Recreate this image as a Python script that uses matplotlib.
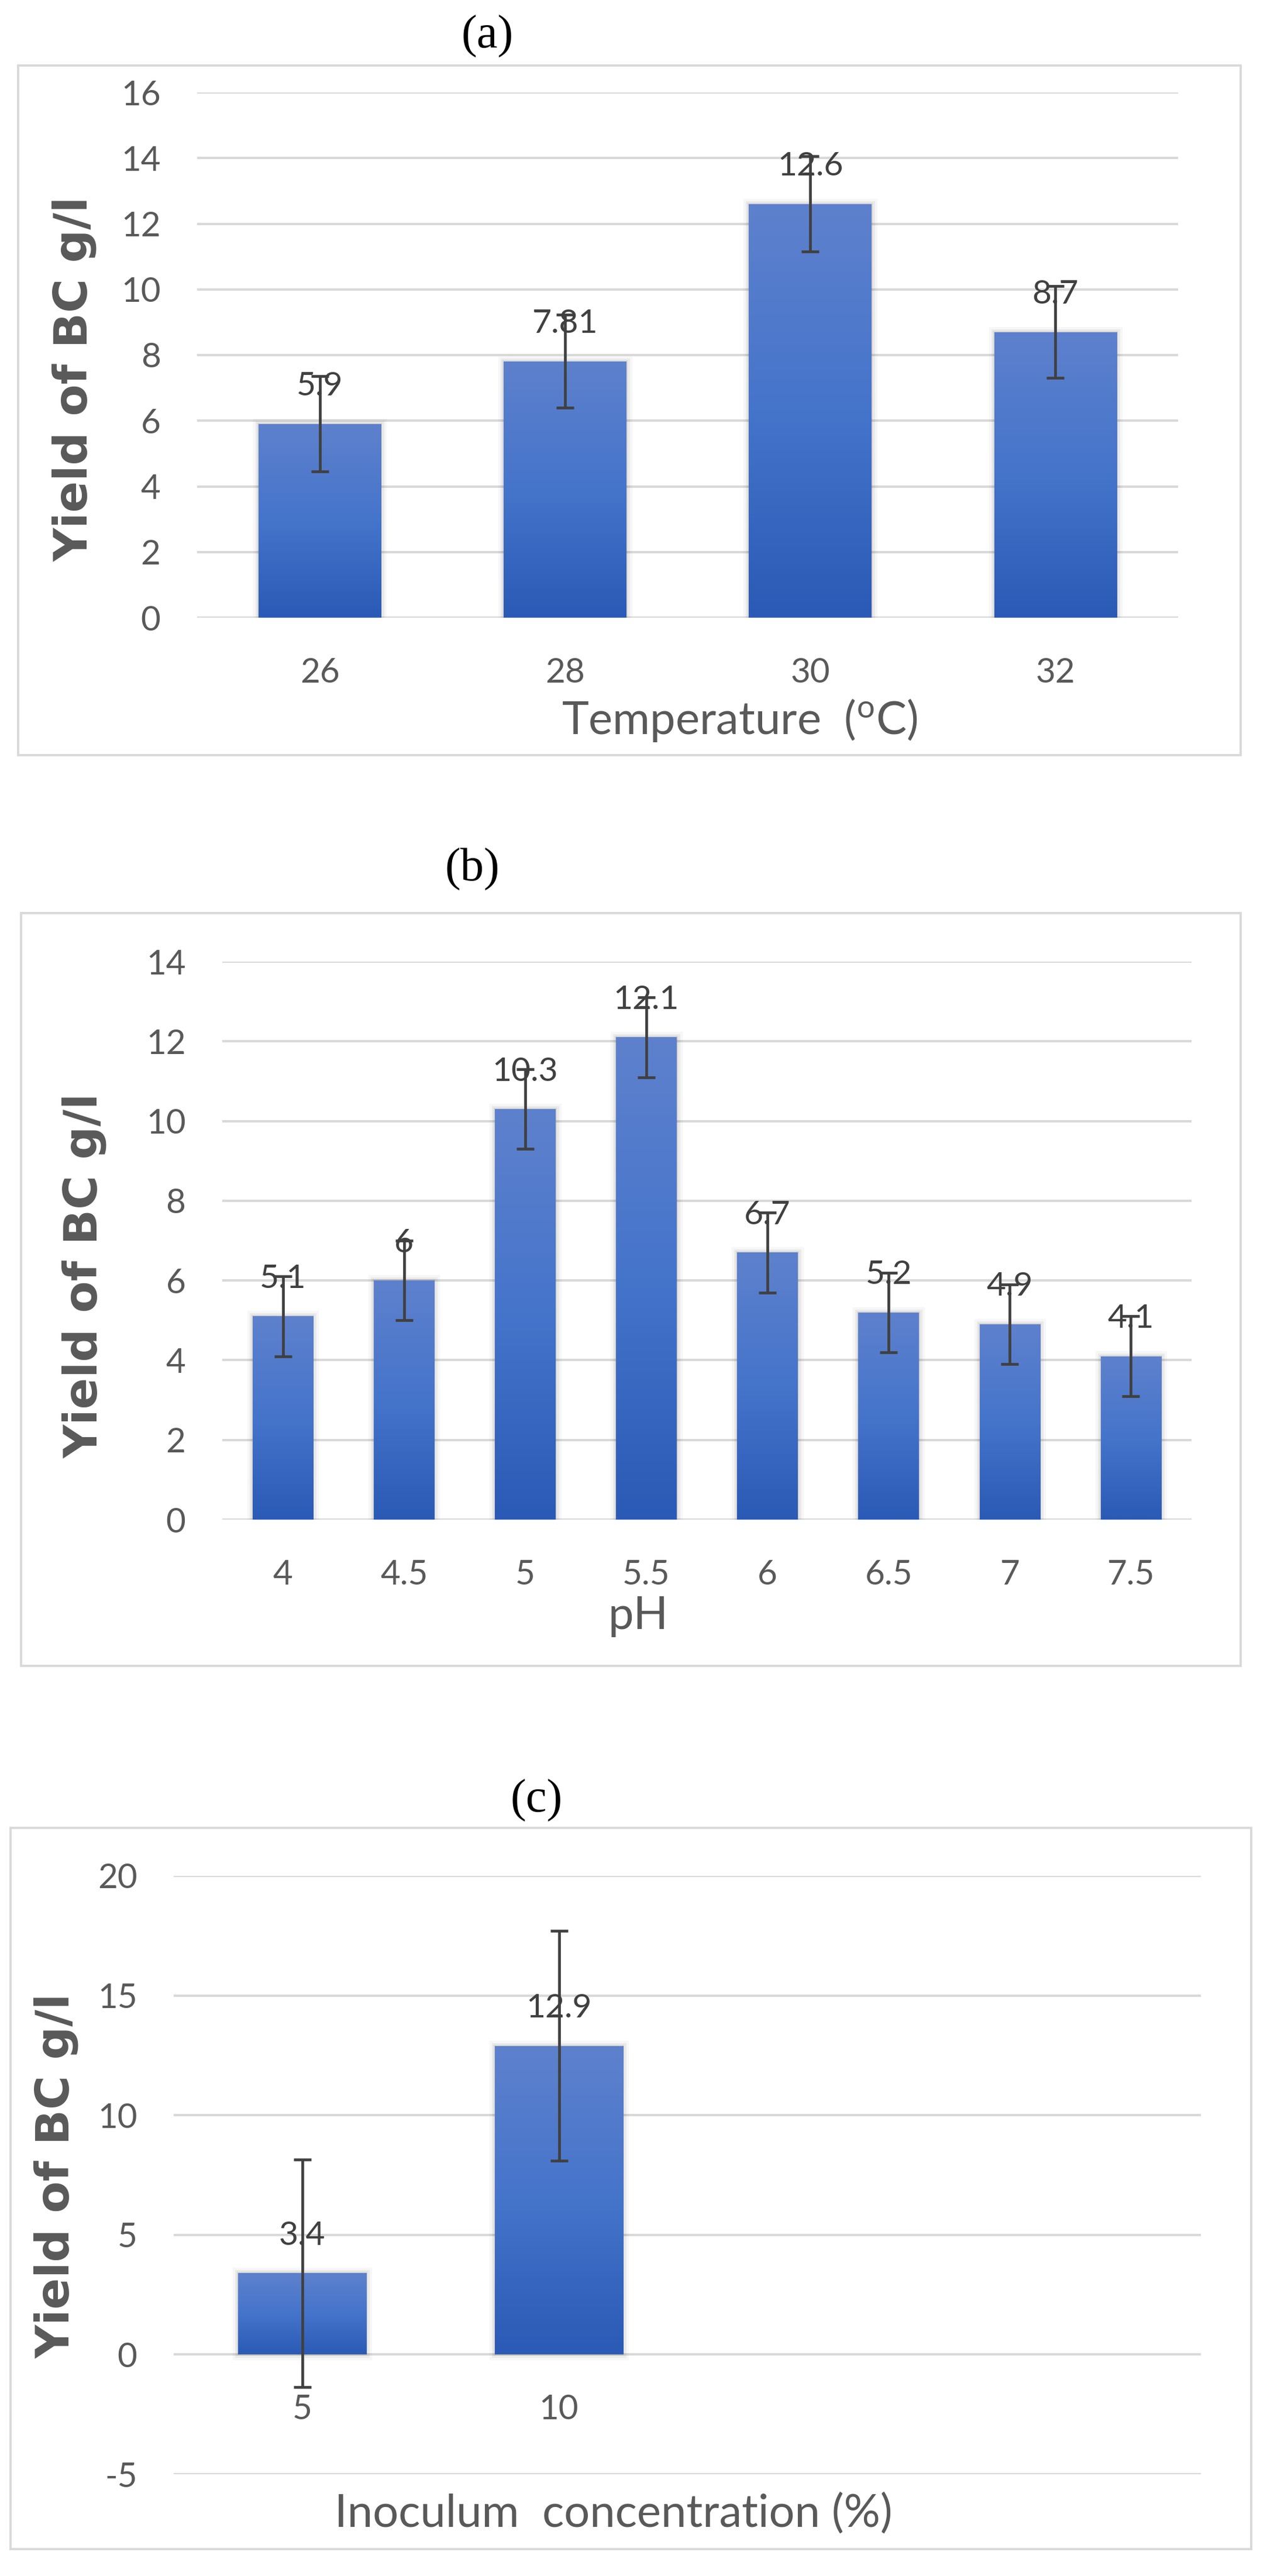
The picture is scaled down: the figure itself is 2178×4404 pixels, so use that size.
import numpy as np
import matplotlib as mplt
mplt.use("Agg")
import matplotlib.pyplot as plt
import matplotlib.patheffects as pe
from matplotlib.patches import Rectangle
from matplotlib.colors import LinearSegmentedColormap

plt.rcParams["font.family"] = ["Lato", "DejaVu Sans"]
plt.rcParams["axes.unicode_minus"] = False
plt.rcParams["mathtext.default"] = "regular"

# data
temp_labels = ["26", "28", "30", "32"]
temp_yield = [5.9, 7.81, 12.6, 8.7]
temp_err = [1.45, 1.42, 1.45, 1.4]

ph_labels = ["4", "4.5", "5", "5.5", "6", "6.5", "7", "7.5"]
ph_yield = [5.1, 6, 10.3, 12.1, 6.7, 5.2, 4.9, 4.1]
ph_err = [1.0, 1.0, 1.0, 1.0, 1.0, 1.0, 1.0, 1.0]

inoc_labels = ["5", "10"]
inoc_yield = [3.4, 12.9]
inoc_err = [4.75, 4.8]

W, H = 2178, 4404
fig = plt.figure(figsize=(W / 100, H / 100), dpi=100)

TICK_C = "#595959"
LABEL_C = "#404040"
GRID_C = "#D9D9D9"
bar_cmap = LinearSegmentedColormap.from_list("bar", ["#2B5AB6", "#4574CB", "#5E81CD"])


def axes_px(l, t, r, b):
    return fig.add_axes([l / W, 1 - b / H, (r - l) / W, (b - t) / H])


def frame_px(l, t, r, b):
    fig.patches.append(Rectangle((l / W, 1 - b / H), (r - l) / W, (b - t) / H,
                                 transform=fig.transFigure, fill=False,
                                 edgecolor=GRID_C, linewidth=2.8))


def draw_panel(ax, labels, vals, errs, ncat, ylim, ystep, xlab, xlab_pos, ylab_pos):
    x = np.arange(len(vals))
    shadow = [pe.Stroke(linewidth=14, foreground="#000000", alpha=0.03),
              pe.Stroke(linewidth=8, foreground="#000000", alpha=0.05),
              pe.Stroke(linewidth=3, foreground="#000000", alpha=0.08),
              pe.Normal()]
    bars = ax.bar(x, vals, width=0.5, color="#4472C4", linewidth=0, zorder=2)
    grad = np.linspace(0, 1, 256).reshape(-1, 1)
    for b in bars:
        b.set_path_effects(shadow)
        x0, y0 = b.get_x(), b.get_y()
        im = ax.imshow(grad, cmap=bar_cmap, aspect="auto", origin="lower",
                       extent=(x0, x0 + b.get_width(), y0, y0 + b.get_height()),
                       zorder=2.1, interpolation="bilinear")
        im.set_clip_path(b)
    ax.errorbar(x, vals, yerr=errs, fmt="none", ecolor="#404040",
                elinewidth=3.4, capsize=11, capthick=3.4, zorder=5)
    for xi, v in zip(x, vals):
        ax.annotate(f"{v:g}", (xi, v), xytext=(0, 35), textcoords="offset points",
                    ha="center", va="baseline", fontsize=41, color=LABEL_C, zorder=4)

    ax.set_xlim(-0.5, ncat - 0.5)
    ax.set_ylim(*ylim)
    ax.set_yticks(np.arange(ylim[0], ylim[1] + 0.1, ystep))
    ax.set_xticks(x)
    ax.set_xticklabels(labels)
    ax.yaxis.grid(True, color=GRID_C, linewidth=2.9)
    ax.set_axisbelow(True)
    for s in ax.spines.values():
        s.set_visible(False)
    ax.spines["bottom"].set_position(("data", 0))
    ax.tick_params(axis="y", length=0, pad=45, labelsize=42, labelcolor=TICK_C)
    ax.tick_params(axis="x", length=0, pad=49, labelsize=42, labelcolor=TICK_C)

    ax.set_xlabel(xlab, fontsize=56, color=TICK_C)
    ax.xaxis.set_label_coords(*xlab_pos)
    ax.xaxis.label.set_va("center")
    ax.set_ylabel("Yield of BC g/l", fontsize=57, fontweight="bold",
                  color=TICK_C, family="DejaVu Sans")
    ax.yaxis.set_label_coords(*ylab_pos)
    ax.yaxis.label.set_va("center")


# panel (a) temperature
frame_px(31, 112, 2121, 1291)
fig.text(833 / W, 1 - 62 / H, "(a)", ha="center", va="center",
         fontsize=58, family="Liberation Serif", color="black")
ax1 = axes_px(337, 158, 2014, 1056)
draw_panel(ax1, temp_labels, temp_yield, temp_err, 4, (0, 16), 2,
           "Temperature  ($^{o}$C)", (0.553, -0.195), (-0.125, 0.454))

# panel (b) pH
frame_px(36, 1561, 2121, 2848)
fig.text(807 / W, 1 - 1486 / H, "(b)", ha="center", va="center",
         fontsize=58, family="Liberation Serif", color="black")
ax2 = axes_px(380, 1644, 2037, 2598)
draw_panel(ax2, ph_labels, ph_yield, ph_err, 8, (0, 14), 2,
           "pH", (0.429, -0.174), (-0.142, 0.437))

# panel (c) inoculum
frame_px(18, 3125, 2139, 4358)
fig.text(917 / W, 1 - 3078 / H, "(c)", ha="center", va="center",
         fontsize=58, family="Liberation Serif", color="black")
ax3 = axes_px(297, 3207, 2053, 4230)
draw_panel(ax3, inoc_labels, inoc_yield, inoc_err, 4, (-5, 20), 5,
           "Inoculum  concentration (%)", (0.428, -0.066), (-0.114, 0.4985))

fig.savefig("out.png", dpi=100, facecolor="white")
